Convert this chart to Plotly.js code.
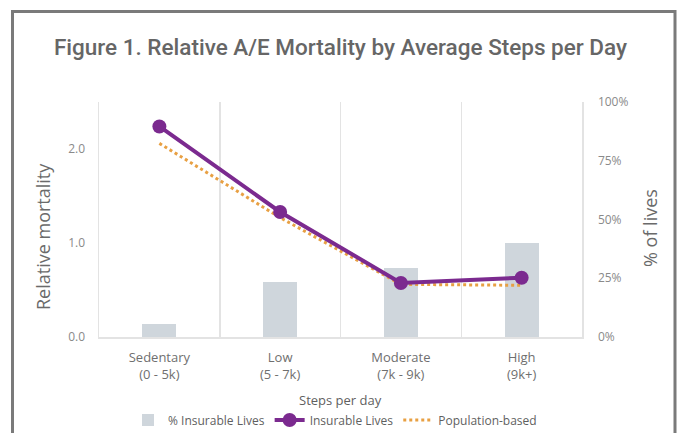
<!DOCTYPE html>
<html>
<head>
<meta charset="utf-8">
<script src="https://cdn.plot.ly/plotly-3.0.1.min.js"></script>
<style>
html,body{margin:0;padding:0;background:#fff;}
#chart{width:681px;height:433px;}
</style>
</head>
<body>
<div id="chart"></div>
<script>
const categories = ["Sedentary<br>(0 - 5k)", "Low<br>(5 - 7k)", "Moderate<br>(7k - 9k)", "High<br>(9k+)"];
const pctInsurableLives = [0.055, 0.235, 0.295, 0.40];
const insurableLives = [2.24, 1.33, 0.575, 0.63];
const populationBased = [2.06, 1.27, 0.56, 0.55];

const grayText = "#7a7a7a";
const traces = [
  {
    type: "bar", name: "% Insurable Lives", x: categories, y: pctInsurableLives, legendrank: 1,
    yaxis: "y", width: 0.28, marker: {color: "#cfd6dc"}, hoverinfo: "y"
  },
  {
    type: "scatter", mode: "lines", name: "Population-based", x: categories, y: populationBased, legendrank: 3,
    yaxis: "y2", line: {color: "#e8a043", width: 3, dash: "dot"}
  },
  {
    type: "scatter", mode: "lines+markers", name: "Insurable Lives", x: categories, y: insurableLives, legendrank: 2,
    yaxis: "y2", line: {color: "#7b2a8f", width: 4}, marker: {color: "#7b2a8f", size: 14}
  }
];

const L = 99, R = 582, T = 102, B = 337;
const pw = R - L, ph = B - T;
const px = v => (v - L) / pw;
const py = v => (B - v) / ph;

const layout = {
  width: 681, height: 433,
  margin: {l: L, r: 681 - R, t: T, b: 433 - B, pad: 0, autoexpand: false},
  paper_bgcolor: "#fff", plot_bgcolor: "#fff",
  showlegend: true,
  title: {
    text: "Figure 1. Relative A/E Mortality by Average Steps per Day",
    font: {family: "Roboto", size: 22.5, color: "#666666", weight: 500},
    x: 0.5, xanchor: "center", y: 1 - 47/433, yanchor: "middle"
  },
  font: {family: "Open Sans", color: grayText},
  bargap: 0,
  xaxis: {
    type: "category", range: [-0.5, 3.5], tickson: "boundaries", automargin: false,
    showgrid: true, gridcolor: "#e3e3e3", gridwidth: 1.5,
    showline: true, linecolor: "#e3e3e3", linewidth: 1.5,
    ticks: "", ticklabelstandoff: 8, tickfont: {size: 13, color: "#6f6f6f"},
    fixedrange: true
  },
  yaxis: {
    side: "right", range: [0, 1], tickvals: [0, 0.25, 0.5, 0.75, 1], tickformat: ".0%", automargin: false,
    showgrid: false, zeroline: false,
    showline: true, linecolor: "#e3e3e3", linewidth: 1.5,
    ticks: "", ticklabelstandoff: 12, tickfont: {size: 12, color: "#8a8a8a"},
    fixedrange: true
  },
  yaxis2: {
    overlaying: "y", side: "left", range: [0, 2.5], tickvals: [0, 1, 2], tickformat: ".1f", automargin: false,
    showgrid: false, zeroline: false,
    showline: true, linecolor: "#e3e3e3", linewidth: 1.5,
    ticks: "", ticklabelstandoff: 10, tickfont: {size: 12, color: "#8a8a8a"},
    fixedrange: true
  },
  legend: {
    orientation: "h", x: px(335), xanchor: "center", y: py(420), yanchor: "middle",
    font: {size: 12, color: "#5f5f5f"}, tracegroupgap: 0,
    traceorder: "normal"
  },
  annotations: [
    {text: "Relative mortality", xref: "paper", yref: "paper", x: px(43), y: py(237),
     xanchor: "center", yanchor: "middle", textangle: -90, showarrow: false,
     font: {family: "Open Sans", size: 18, color: "#6a6a6a"}},
    {text: "% of lives", xref: "paper", yref: "paper", x: px(650), y: py(228),
     xanchor: "center", yanchor: "middle", textangle: -90, showarrow: false,
     font: {family: "Open Sans", size: 18, color: "#6a6a6a"}},
    {text: "Steps per day", xref: "paper", yref: "paper", x: px(340), y: py(400),
     xanchor: "center", yanchor: "middle", showarrow: false,
     font: {family: "Open Sans", size: 13, color: "#5f5f5f"}}
  ],
  shapes: [
    {type: "path", xref: "paper", yref: "paper", layer: "above",
     path: `M ${px(12.5)} ${py(445)} L ${px(12.5)} ${py(11.5)} L ${px(675)} ${py(11.5)} L ${px(675)} ${py(445)}`,
     line: {color: "#7a7a7a", width: 3}}
  ]
};

Plotly.newPlot("chart", traces, layout, {displayModeBar: false, staticPlot: true});
</script>
</body>
</html>
